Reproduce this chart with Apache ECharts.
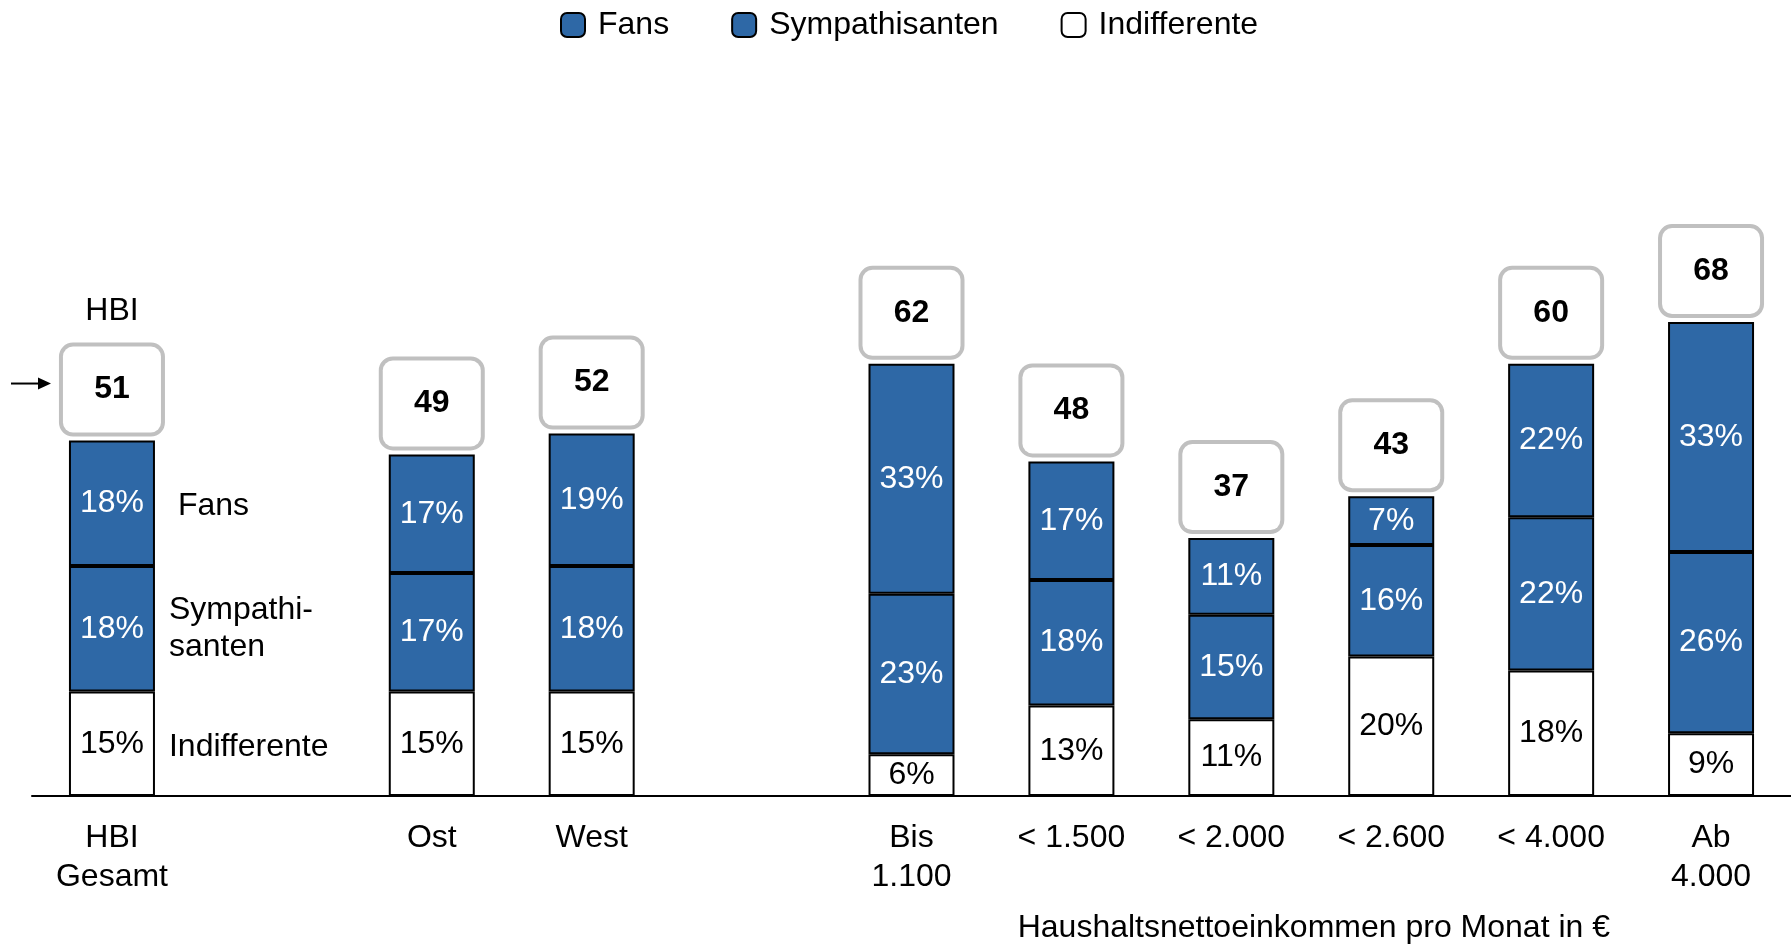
<!DOCTYPE html>
<html>
<head>
<meta charset="utf-8">
<title>HBI nach Region und Einkommen</title>
<script src="https://cdn.jsdelivr.net/npm/echarts@6/dist/echarts.min.js"></script>
<style>
  html, body { margin: 0; padding: 0; background: #fff; }
  #main { width: 1791px; height: 947px; }
</style>
</head>
<body>
<div id="main"></div>
<script>
// Kategorien (leere Einträge = Abstand zwischen den Gruppen)
const categories = ['HBI\nGesamt', '', 'Ost', 'West', '', 'Bis\n1.100', '< 1.500', '< 2.000', '< 2.600', '< 4.000', 'Ab\n4.000']
const fans = [18, null, 17, 19, null, 33, 17, 11, 7, 22, 33]
const sympathisanten = [18, null, 17, 18, null, 23, 18, 15, 16, 22, 26]
const indifferente = [15, null, 15, 15, null, 6, 13, 11, 20, 18, 9]
// HBI-Wert im Kasten über dem Balken
const hbiTotals = [51, null, 49, 52, null, 62, 48, 37, 43, 60, 68]

const FONT = '"Liberation Sans", Arial, sans-serif'
const BLUE = '#2e68a6'

const chart = echarts.init(document.getElementById('main'))

function segLabel(color) {
  return {
    show: true,
    position: 'inside',
    color: color,
    fontSize: 32,
    fontFamily: FONT,
    formatter: p => p.value == null ? '' : p.value + '%'
  }
}

const option = {
  animation: false,
  backgroundColor: '#fff',
  textStyle: { fontFamily: FONT },
  legend: {
    data: ['Fans', 'Sympathisanten', 'Indifferente'],
    top: 4,
    left: 555,
    icon: 'roundRect',
    itemWidth: 24,
    itemHeight: 24,
    itemGap: 62,
    textStyle: { fontSize: 32, color: '#000', fontFamily: FONT, padding: [0, 0, 0, 8] }
  },
  grid: {
    left: 32,
    right: 0,
    top: 99,
    bottom: 151,
    containLabel: false
  },
  xAxis: {
    type: 'category',
    data: categories,
    axisTick: { show: false },
    axisLine: { lineStyle: { color: '#000', width: 2 } },
    axisLabel: {
      interval: 0,
      color: '#000',
      fontSize: 32,
      lineHeight: 39,
      margin: 23,
      fontFamily: FONT
    }
  },
  yAxis: {
    type: 'value',
    min: 0,
    max: 100,
    show: false
  },
  series: [
    {
      name: 'Indifferente',
      type: 'bar',
      stack: 'hbi',
      data: indifferente,
      barWidth: 86,
      itemStyle: { color: '#fff', borderColor: '#000', borderWidth: 2 },
      label: segLabel('#000')
    },
    {
      name: 'Sympathisanten',
      type: 'bar',
      stack: 'hbi',
      data: sympathisanten,
      barWidth: 86,
      itemStyle: { color: BLUE, borderColor: '#000', borderWidth: 2 },
      label: segLabel('#fff')
    },
    {
      name: 'Fans',
      type: 'bar',
      stack: 'hbi',
      data: fans,
      barWidth: 86,
      itemStyle: { color: BLUE, borderColor: '#000', borderWidth: 2 },
      label: segLabel('#fff')
    },
    {
      // unsichtbare Reihe nur für die Kästen mit dem HBI-Wert
      name: 'HBI',
      type: 'bar',
      stack: 'hbi',
      data: hbiTotals.map(v => v == null ? null : 0),
      barWidth: 86,
      itemStyle: { color: 'transparent' },
      label: {
        show: true,
        position: 'top',
        distance: 8,
        formatter: p => hbiTotals[p.dataIndex] == null ? '' : String(hbiTotals[p.dataIndex]),
        backgroundColor: '#fff',
        borderColor: '#c0c0c0',
        borderWidth: 4,
        borderRadius: 10,
        width: 98,
        height: 86,
        lineHeight: 86,
        padding: 0,
        color: '#000',
        fontSize: 32,
        fontWeight: 'bold',
        fontFamily: FONT
      }
    }
  ]
}

chart.setOption(option)

// Beschriftungen neben dem HBI-Gesamt-Balken
const total0 = indifferente[0] + sympathisanten[0] + fans[0]
const p0 = chart.convertToPixel({ gridIndex: 0 }, [0, 0])
const pInd = chart.convertToPixel({ gridIndex: 0 }, [0, indifferente[0] / 2])
const pSym = chart.convertToPixel({ gridIndex: 0 }, [0, indifferente[0] + sympathisanten[0] / 2])
const pFan = chart.convertToPixel({ gridIndex: 0 }, [0, indifferente[0] + sympathisanten[0] + fans[0] / 2])
const pTop = chart.convertToPixel({ gridIndex: 0 }, [0, total0])
const barRight = p0[0] + 43
const boxMid = pTop[1] - 8 - 45

const txt = (x, y, s, align) => ({
  type: 'text',
  x: x,
  y: y,
  style: {
    text: s,
    fill: '#000',
    font: '32px ' + FONT,
    align: align || 'left',
    verticalAlign: 'middle',
    lineHeight: 37
  }
})

chart.setOption({
  graphic: [
    txt(barRight + 23, pFan[1] + 3, 'Fans'),
    txt(barRight + 14, pSym[1], 'Sympathi-\nsanten'),
    txt(barRight + 14, pInd[1] + 3, 'Indifferente'),
    txt(p0[0], pTop[1] - 129, 'HBI', 'center'),
    {
      type: 'line',
      shape: { x1: 11, y1: boxMid - 4, x2: 42, y2: boxMid - 4 },
      style: { stroke: '#000', lineWidth: 2 }
    },
    {
      type: 'polygon',
      shape: { points: [[38, boxMid - 10], [51, boxMid - 4], [38, boxMid + 2]] },
      style: { fill: '#000' }
    },
    {
      type: 'text',
      right: 181,
      top: 912,
      style: {
        text: 'Haushaltsnettoeinkommen pro Monat in €',
        fill: '#000',
        font: '32px ' + FONT
      }
    }
  ]
})

window.addEventListener('resize', () => chart.resize())
</script>
</body>
</html>
